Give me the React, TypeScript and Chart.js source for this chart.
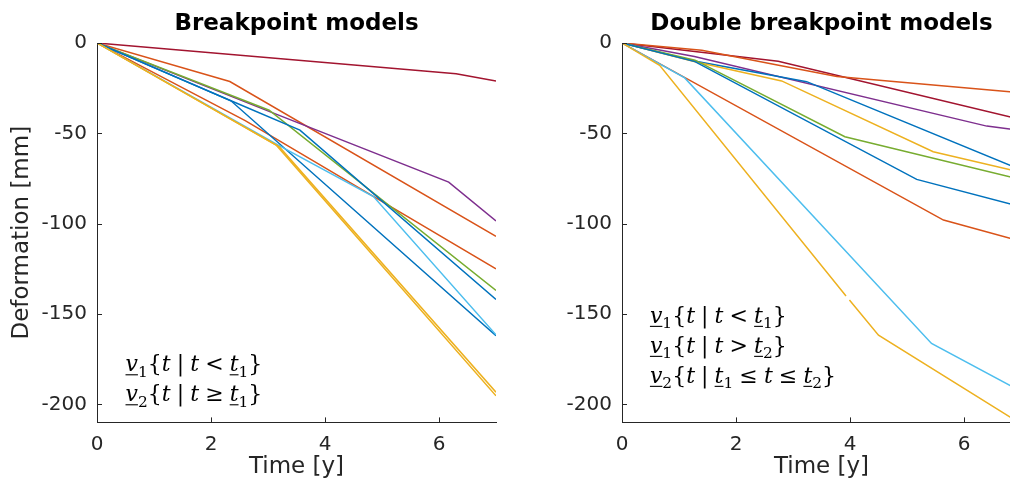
import React, { useEffect, useRef } from 'react';
import { Chart, registerables } from 'chart.js';

Chart.register(...registerables);

// ---------- data ----------
const xTicks = [0, 2, 4, 6];
const yTicks = [0, -50, -100, -150, -200];

const seriesColors = {
  blue: '#0072BD',
  orange: '#D95319',
  yellow: '#EDB120',
  purple: '#7E2F8E',
  green: '#77AC30',
  cyan: '#4DBEEE',
  red: '#A2142F',
};

// Left panel: breakpoint models
const bpColors = ['red', 'orange', 'orange', 'purple', 'green', 'blue', 'blue', 'cyan', 'yellow', 'yellow'];
const bpTimes: number[][] = [
  [0, 6.3, 7],
  [0, 2.33, 7],
  [0, 2.6, 7],
  [0, 3.03, 6.17, 7],
  [0, 3.02, 7],
  [0, 2.35, 7],
  [0, 2.35, 3.56, 7],
  [0, 3.18, 4.85, 7],
  [0, 3.2, 7],
  [0, 3.15, 7],
];
const bpValues: number[][] = [
  [0, -17, -21],
  [0, -21.3, -107],
  [0, -43, -125],
  [0, -38, -77, -98.5],
  [0, -37.2, -137],
  [0, -32, -162],
  [0, -32, -48.2, -142],
  [0, -56.5, -85, -161.5],
  [0, -57.5, -193.3],
  [0, -56.7, -195.3],
];

// Right panel: double breakpoint models
const dbpColors = ['red', 'orange', 'purple', 'blue', 'yellow', 'green', 'blue', 'orange', 'cyan', 'yellow'];
const dbpTimes: number[][] = [
  [0, 2.74, 7],
  [0, 1.4, 2.77, 3.77, 7],
  [0, 1.27, 6.4, 7],
  [0, 1.27, 3.24, 7],
  [0, 1.3, 2.8, 5.46, 7],
  [0, 1.28, 3.91, 7],
  [0, 1.28, 5.17, 7],
  [0, 5.64, 7],
  [0, 1.1, 5.43, 7],
  [0, 0.66, 3.93, 3.96, 3.99, 4.5, 7],
];
const dbpValues: (number | null)[][] = [
  [0, -10.1, -42.3],
  [0, -4, -12.5, -18.5, -27.6],
  [0, -7.5, -46, -48.4],
  [0, -10, -21.4, -70.2],
  [0, -10.5, -21, -60.2, -71.5],
  [0, -9.5, -51.9, -75.5],
  [0, -10.3, -75.5, -90.7],
  [0, -98, -109.7],
  [0, -19.3, -166.3, -192.8],
  [0, -12.4, -140, null, -142.3, -161.7, -210.8],
];

type Tok = [string, 'i' | 'r' | 's' | 'u' | 'm'];
const bpNotes: Tok[][] = [
  [['v', 'u'], ['1', 's'], ['{', 'r'], ['t', 'i'], ['|', 'm'], ['t', 'i'], ['<', 'm'], ['t', 'u'], ['1', 's'], ['}', 'r']],
  [['v', 'u'], ['2', 's'], ['{', 'r'], ['t', 'i'], ['|', 'm'], ['t', 'i'], ['≥', 'm'], ['t', 'u'], ['1', 's'], ['}', 'r']],
];
const dbpNotes: Tok[][] = [
  [['v', 'u'], ['1', 's'], ['{', 'r'], ['t', 'i'], ['|', 'm'], ['t', 'i'], ['<', 'm'], ['t', 'u'], ['1', 's'], ['}', 'r']],
  [['v', 'u'], ['1', 's'], ['{', 'r'], ['t', 'i'], ['|', 'm'], ['t', 'i'], ['>', 'm'], ['t', 'u'], ['2', 's'], ['}', 'r']],
  [['v', 'u'], ['2', 's'], ['{', 'r'], ['t', 'i'], ['|', 'm'], ['t', 'u'], ['1', 's'], ['≤', 'm'], ['t', 'i'], ['≤', 'm'], ['t', 'u'], ['2', 's'], ['}', 'r']],
];

// ---------- helpers ----------
const SANS = '"DejaVu Sans", sans-serif';
const SERIF = '"DejaVu Serif", serif';
const AXIS = '#262626';

function notesPlugin(lines: Tok[][], xData: number, baseData: number[], size: number) {
  return {
    id: 'notes',
    afterDraw(chart: any) {
      const { ctx, scales } = chart;
      ctx.save();
      ctx.fillStyle = '#000';
      ctx.strokeStyle = '#000';
      ctx.textBaseline = 'alphabetic';
      ctx.textAlign = 'left';
      lines.forEach((line, li) => {
        let x = scales.x.getPixelForValue(xData);
        const by = scales.y.getPixelForValue(baseData[li]);
        for (const [txt, kind] of line) {
          let dy = 0;
          let gap = 0;
          if (kind === 's') {
            ctx.font = `${size * 0.7}px ${SERIF}`;
            dy = size * 0.24;
          } else if (kind === 'i' || kind === 'u') {
            ctx.font = `italic ${size}px ${SERIF}`;
          } else {
            ctx.font = `${size}px ${SERIF}`;
          }
          if (kind === 'm') gap = (size * 5) / 18;
          x += gap;
          ctx.fillText(txt, x, by + dy);
          const w = ctx.measureText(txt).width;
          if (kind === 'u') {
            ctx.lineWidth = 1.1;
            ctx.beginPath();
            ctx.moveTo(x, by + size * 0.16);
            ctx.lineTo(x + w, by + size * 0.16);
            ctx.stroke();
          }
          x += w + gap;
        }
      });
      ctx.restore();
    },
  };
}

function titlePlugin(text: string) {
  return {
    id: 'panelTitle',
    afterDraw(chart: any) {
      const { ctx, chartArea } = chart;
      ctx.save();
      ctx.font = `bold 23px ${SANS}`;
      ctx.fillStyle = '#000';
      ctx.textAlign = 'center';
      ctx.textBaseline = 'middle';
      ctx.fillText(text, (chartArea.left + chartArea.right) / 2, 24.2);
      ctx.restore();
    },
  };
}

const inwardTicks = {
  id: 'inwardTicks',
  afterDraw(chart: any) {
    const { ctx, chartArea, scales } = chart;
    ctx.save();
    ctx.strokeStyle = AXIS;
    ctx.lineWidth = 1;
    ctx.beginPath();
    scales.x.ticks.forEach((t: any) => {
      const px = Math.round(scales.x.getPixelForValue(t.value)) + 0.5;
      ctx.moveTo(px, chartArea.bottom);
      ctx.lineTo(px, chartArea.bottom - 5);
    });
    scales.y.ticks.forEach((t: any) => {
      const py = Math.round(scales.y.getPixelForValue(t.value)) + 0.5;
      ctx.moveTo(chartArea.left, py);
      ctx.lineTo(chartArea.left + 5, py);
    });
    ctx.stroke();
    ctx.restore();
  },
};

function makeConfig(
  title: string,
  times: number[][],
  values: (number | null)[][],
  colors: string[],
  yAxisWidth: number,
  padRight: number,
  showYTitle: boolean,
  notes: any
) {
  const datasets = times.map((ts, i) => ({
    data: ts.map((t, j) => ({ x: t, y: values[i][j] })),
    borderColor: (seriesColors as any)[colors[i]],
    borderWidth: 1.5,
    pointRadius: 0,
    tension: 0,
    fill: false,
    order: -i,
  }));
  return {
    type: 'line',
    data: { datasets },
    options: {
      animation: false,
      responsive: false,
      maintainAspectRatio: false,
      layout: { padding: { top: 43, left: 0, right: padRight, bottom: 0 } },
      plugins: {
        legend: { display: false },
        tooltip: { enabled: false },
        title: { display: false },
      },
      scales: {
        x: {
          type: 'linear',
          min: 0,
          max: 7,
          afterBuildTicks: (s: any) => {
            s.ticks = xTicks.map((v) => ({ value: v }));
          },
          afterFit: (s: any) => {
            s.height = 64.6;
          },
          grid: { display: false, drawTicks: false },
          border: { display: true, color: AXIS, width: 1 },
          ticks: {
            color: AXIS,
            padding: 10,
            maxRotation: 0,
            font: { family: SANS, size: 20, lineHeight: 1.2 },
            callback: (v: any) => String(v),
          },
          title: {
            display: true,
            text: 'Time [y]',
            color: AXIS,
            font: { family: SANS, size: 23, lineHeight: 1.2 },
            padding: { top: 0, bottom: 5.8 },
          },
        },
        y: {
          type: 'linear',
          min: -210,
          max: 0,
          afterBuildTicks: (s: any) => {
            s.ticks = yTicks.map((v) => ({ value: v }));
          },
          afterFit: (s: any) => {
            s.width = yAxisWidth;
          },
          grid: { display: false, drawTicks: false },
          border: { display: true, color: AXIS, width: 1 },
          ticks: {
            color: AXIS,
            padding: 10,
            font: { family: SANS, size: 20, lineHeight: 1.2 },
            callback: (v: any) => String(v),
          },
          title: {
            display: showYTitle,
            text: 'Deformation [mm]',
            color: AXIS,
            font: { family: SANS, size: 23, lineHeight: 1.2 },
            padding: { top: 8.4, bottom: 0 },
          },
        },
      },
    },
    plugins: [inwardTicks, notes, titlePlugin(title)],
  } as any;
}

export default function App() {
  const leftRef = useRef<HTMLCanvasElement>(null);
  const rightRef = useRef<HTMLCanvasElement>(null);

  useEffect(() => {
    const left = new Chart(
      leftRef.current as HTMLCanvasElement,
      makeConfig('Breakpoint models', bpTimes, bpValues, bpColors, 97, 24, true,
        notesPlugin(bpNotes, 0.5, [-181.7, -198.3], 22))
    );
    const right = new Chart(
      rightRef.current as HTMLCanvasElement,
      makeConfig('Double breakpoint models', dbpTimes, dbpValues, dbpColors, 102, 19, false,
        notesPlugin(dbpNotes, 0.49, [-154.9, -171.5, -188.1], 22))
    );
    return () => {
      left.destroy();
      right.destroy();
    };
  }, []);

  return (
    <div
      style={{
        position: 'fixed',
        left: 0,
        top: 0,
        width: 1010,
        height: 487,
        overflow: 'hidden',
        background: '#fff',
      }}
    >
      <canvas ref={leftRef} width={520} height={487} style={{ position: 'absolute', left: 0, top: 0, width: 520, height: 487 }} />
      <canvas ref={rightRef} width={520} height={487} style={{ position: 'absolute', left: 520, top: 0, width: 520, height: 487 }} />
    </div>
  );
}
